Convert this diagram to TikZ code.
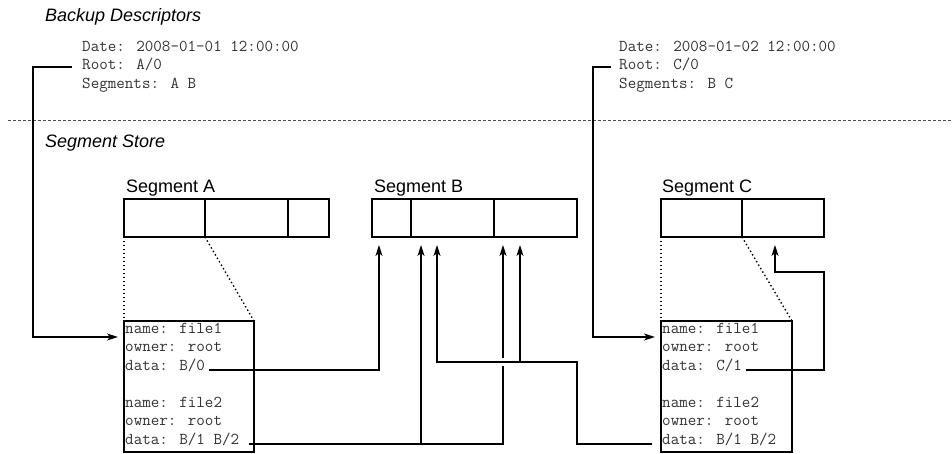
\documentclass[tikz,border=0pt]{standalone}
\usepackage{fontspec}
\setmainfont{Liberation Sans}
\setsansfont{Liberation Sans}
\usetikzlibrary{arrows.meta, positioning, calc}

\begin{document}
\begin{tikzpicture}[
    x=1pt, y=-1pt,
    cell/.style = {rectangle, draw=black, line width=1.4pt, minimum height=38pt, inner sep=0pt, outer sep=0pt},
    filebox/.style = {rectangle, draw=black, line width=1.1pt, anchor=north west, inner sep=0pt, outer sep=0pt},
    field/.style = {anchor=base west, inner sep=0pt, font=\ttfamily\fontsize{16.6}{19}\selectfont, text=black!80},
    heading/.style = {anchor=base west, inner sep=0pt, font=\sffamily\itshape\fontsize{18}{21}\selectfont},
    seglabel/.style = {anchor=base west, inner sep=0pt, font=\sffamily\fontsize{18}{21}\selectfont},
    conn/.style = {line width=1.3pt},
    ref/.style = {conn, -{Stealth[length=11pt, width=7pt, inset=3pt]}},
    zoomline/.style = {line width=1.4pt, dash pattern=on 1.4pt off 2.6pt}
]

    \useasboundingbox (0,0) rectangle (952,453);

    % 1. Backup descriptors
    \node [heading] (bdtitle) at (45,21) {Backup Descriptors};

    \node [field] (dateA) at (82,51) {Date: 2008-01-01 12:00:00};
    \node [field] (rootA) at ([yshift=-18.5pt]dateA.base west) {Root: A/0};
    \node [field] (segsA) at ([yshift=-18.5pt]rootA.base west) {Segments: A B};

    \node [field] (dateC) at (619,51) {Date: 2008-01-02 12:00:00};
    \node [field] (rootC) at ([yshift=-18.5pt]dateC.base west) {Root: C/0};
    \node [field] (segsC) at ([yshift=-18.5pt]rootC.base west) {Segments: B C};

    \draw [black!70, line width=1pt, dash pattern=on 3pt off 2pt] (8,120) -- (952,120);

    % 2. Segment store
    \node [heading] (sstitle) at (45,147) {Segment Store};

    \node [cell, minimum width=81pt, anchor=north west] (A0) at (124,199) {};
    \node [cell, minimum width=83pt, right=0pt of A0] (A1) {};
    \node [cell, minimum width=41pt, right=0pt of A1] (A2) {};

    \node [cell, minimum width=39pt, anchor=north west] (B0) at (372,199) {};
    \node [cell, minimum width=83pt, right=0pt of B0] (B1) {};
    \node [cell, minimum width=83pt, right=0pt of B1] (B2) {};

    \node [cell, minimum width=81pt, anchor=north west] (C0) at (661,199) {};
    \node [cell, minimum width=82pt, right=0pt of C0] (C1) {};

    \node [seglabel] (labA) at ([xshift=2pt,yshift=7pt]A0.north west) {Segment A};
    \node [seglabel] (labB) at ([xshift=2pt,yshift=7pt]B0.north west) {Segment B};
    \node [seglabel] (labC) at ([xshift=1pt,yshift=7pt]C0.north west) {Segment C};

    % 3. Directory blocks
    \node [filebox, minimum width=130pt, minimum height=131pt] (fileA) at (124,321) {};
    \node [field] (fA1) at ([xshift=1pt,yshift=-12pt]fileA.north west) {name: file1};
    \node [field] (fA2) at ([yshift=-18.5pt]fA1.base west) {owner: root};
    \node [field] (fA3) at ([yshift=-18.5pt]fA2.base west) {data: B/0};
    \node [field] (fA4) at ([yshift=-37pt]fA3.base west) {name: file2};
    \node [field] (fA5) at ([yshift=-18.5pt]fA4.base west) {owner: root};
    \node [field] (fA6) at ([yshift=-18.5pt]fA5.base west) {data: B/1 B/2};

    \node [filebox, minimum width=131pt, minimum height=131pt] (fileC) at (661,321) {};
    \node [field] (fC1) at ([xshift=1pt,yshift=-12pt]fileC.north west) {name: file1};
    \node [field] (fC2) at ([yshift=-18.5pt]fC1.base west) {owner: root};
    \node [field] (fC3) at ([yshift=-18.5pt]fC2.base west) {data: C/1};
    \node [field] (fC4) at ([yshift=-37pt]fC3.base west) {name: file2};
    \node [field] (fC5) at ([yshift=-18.5pt]fC4.base west) {owner: root};
    \node [field] (fC6) at ([yshift=-18.5pt]fC5.base west) {data: B/1 B/2};

    \draw [zoomline] (A0.south west) -- (fileA.north west);
    \draw [zoomline] (A0.south east) -- (fileA.north east);
    \draw [zoomline] (C0.south west) -- (fileC.north west);
    \draw [zoomline] (C0.south east) -- (fileC.north east);

    % 4. Connections
    \coordinate (tB0)  at ([xshift=7pt,yshift=-8pt]B0.south west);
    \coordinate (tB1a) at ([xshift=10pt,yshift=-8pt]B1.south west);
    \coordinate (tB1b) at ([xshift=26pt,yshift=-8pt]B1.south west);
    \coordinate (tB2a) at ([xshift=9pt,yshift=-8pt]B2.south west);
    \coordinate (tB2b) at ([xshift=26pt,yshift=-8pt]B2.south west);
    \coordinate (tC1)  at ([xshift=33pt,yshift=-8pt]C1.south west);
    \coordinate (bend) at ([yshift=-125pt]B2.south east);

    % Descriptors to root blocks
    \draw [ref] ([xshift=-10pt]rootA.mid west) -- ++(-39pt,0) |- ([xshift=-6pt,yshift=-16pt]fileA.north west);
    \draw [ref] ([xshift=-8pt]rootC.mid west) -- ++(-18pt,0) |- ([xshift=-6pt,yshift=-16pt]fileC.north west);

    % Data references into segments
    \draw [ref] ([xshift=4pt]fA3.base east) -| (tB0);
    \draw [ref] ([xshift=10pt]fA6.base east) -| (tB2a);
    \draw [ref] (tB1a |- fA6.base) -- (tB1a);

    \draw [ref, preaction={draw=white, line width=8pt, -}] ([xshift=-10pt]fC6.base west) -| (bend) -| (tB1b);
    \draw [ref] (tB2b |- bend) -- (tB2b);

    \draw [ref] ([xshift=4pt]fC3.base east) -| ([yshift=-35pt]C1.south east) -| (tC1);

\end{tikzpicture}
\end{document}
